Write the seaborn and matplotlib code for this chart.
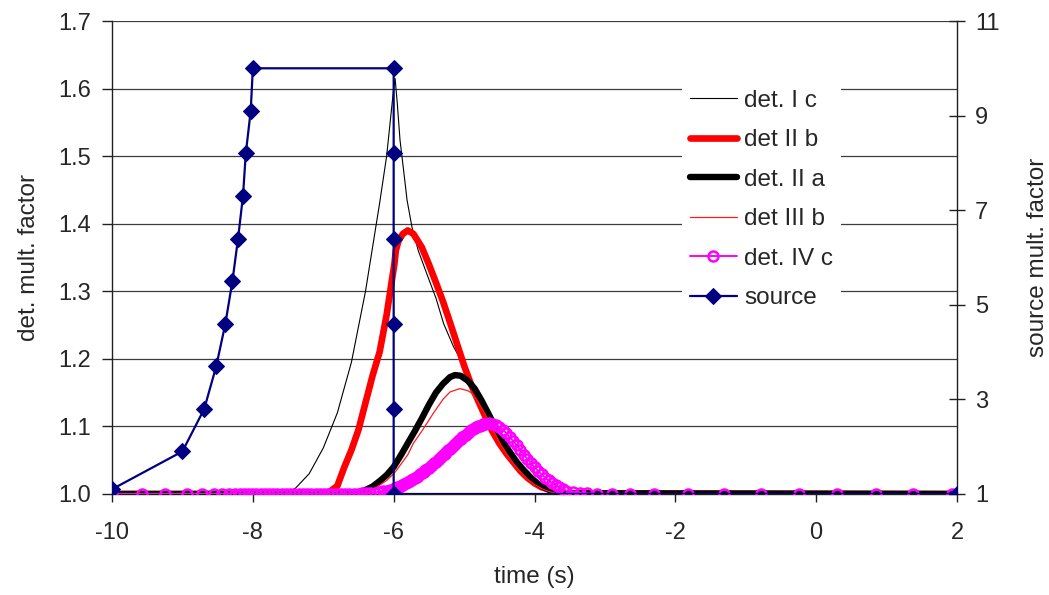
import numpy as np
import pandas as pd
import matplotlib
matplotlib.use("Agg")
import matplotlib.pyplot as plt
import seaborn as sns

# ---- detector responses (multiplication factor vs time) ----
det1c_t = [-10.0, -7.6, -7.4, -7.2, -7.0, -6.8, -6.6, -6.4, -6.2, -6.1, -6.0, -5.98,
           -5.95, -5.91, -5.86, -5.81, -5.74, -5.65, -5.53, -5.4, -5.29, -5.15, -5.0,
           -4.8, -4.6, -4.4, -4.2, -4.0, -3.8, -3.6, 2.0]
det1c_v = [1.0, 1.0, 1.008, 1.03, 1.068, 1.12, 1.195, 1.30, 1.43, 1.50, 1.60, 1.615,
           1.58, 1.524, 1.48, 1.435, 1.395, 1.36, 1.326, 1.29, 1.252, 1.218, 1.19,
           1.14, 1.095, 1.06, 1.033, 1.016, 1.006, 1.001, 1.0]

det2b_t = [-10.0, -7.0, -6.9, -6.8, -6.7, -6.6, -6.5, -6.4, -6.3, -6.2, -6.1, -6.02,
           -5.99, -5.97, -5.93, -5.87, -5.8, -5.72, -5.6, -5.5, -5.4, -5.3, -5.2, -5.1,
           -5.0, -4.9, -4.8, -4.7, -4.6, -4.5, -4.4, -4.3, -4.2, -4.1, -4.0, -3.9,
           -3.8, -3.7, -3.6, 2.0]
det2b_v = [1.0, 1.0, 1.004, 1.012, 1.04, 1.065, 1.095, 1.135, 1.175, 1.21, 1.265, 1.32,
           1.34, 1.36, 1.375, 1.385, 1.39, 1.385, 1.365, 1.34, 1.313, 1.285, 1.254, 1.222,
           1.19, 1.162, 1.138, 1.115, 1.093, 1.075, 1.06, 1.047, 1.034, 1.024, 1.016, 1.01,
           1.007, 1.003, 1.001, 1.0]

det2a_t = [-10.0, -6.6, -6.5, -6.4, -6.3, -6.2, -6.1, -6.0, -5.9, -5.8, -5.7, -5.6,
           -5.5, -5.4, -5.3, -5.2, -5.13, -5.05, -4.95, -4.85, -4.75, -4.65, -4.55,
           -4.45, -4.35, -4.25, -4.15, -4.05, -3.95, -3.85, -3.75, -3.65, 2.0]
det2a_v = [1.0, 1.0, 1.002, 1.006, 1.011, 1.019, 1.028, 1.04, 1.057, 1.075, 1.093, 1.112,
           1.132, 1.15, 1.163, 1.173, 1.176, 1.175, 1.168, 1.156, 1.138, 1.118, 1.097,
           1.078, 1.062, 1.047, 1.035, 1.024, 1.015, 1.009, 1.004, 1.001, 1.0]

det3b_t = [-10.0, -6.5, -6.3, -6.1, -6.0, -5.96, -5.8, -5.72, -5.6, -5.44, -5.3, -5.2,
           -5.06, -4.95, -4.9, -4.8, -4.7, -4.6, -4.5, -4.4, -4.3, -4.2, -4.1, -4.0,
           -3.9, -3.8, -3.7, 2.0]
det3b_v = [1.0, 1.0, 1.006, 1.02, 1.03, 1.035, 1.058, 1.075, 1.093, 1.119, 1.14, 1.151,
           1.156, 1.153, 1.15, 1.136, 1.118, 1.097, 1.077, 1.06, 1.045, 1.033, 1.022, 1.014,
           1.008, 1.004, 1.001, 1.0]

det4c_t = [-10.0, -9.58, -9.25, -8.94, -8.72, -8.55, -8.44, -8.34, -8.26, -8.18, -8.12,
           -8.07, -8.01, -7.95, -7.89,
           -7.83, -7.77, -7.71, -7.65, -7.59, -7.53, -7.47, -7.41, -7.35, -7.29, -7.23,
           -7.17, -7.11, -7.05, -6.99, -6.93, -6.87, -6.81, -6.75, -6.69, -6.63, -6.57,
           -6.51, -6.45, -6.39, -6.33, -6.27, -6.21, -6.15, -6.10, -6.05,
           -6.000, -5.975, -5.950, -5.925, -5.900, -5.875, -5.850, -5.825, -5.800,
           -5.775, -5.750, -5.725, -5.700, -5.675, -5.650, -5.625, -5.600, -5.575,
           -5.550, -5.525, -5.500, -5.475, -5.450, -5.425, -5.400, -5.375, -5.350,
           -5.325, -5.300, -5.275, -5.250, -5.225, -5.200, -5.175, -5.150, -5.125,
           -5.100, -5.075, -5.050, -5.025, -5.000, -4.975, -4.950, -4.925, -4.900,
           -4.875, -4.850, -4.825, -4.800, -4.775, -4.750, -4.725, -4.700,
           -4.65, -4.60, -4.55, -4.50, -4.45, -4.40,
           -4.35, -4.30, -4.25, -4.20, -4.15, -4.10, -4.05, -4.00, -3.95, -3.90, -3.85,
           -3.80, -3.75, -3.70, -3.65, -3.60, -3.55,
           -3.45, -3.35, -3.25, -3.11, -2.90, -2.65, -2.31, -1.82, -1.31, -0.78, -0.24,
           0.30, 0.85, 1.38, 1.93]
det4c_v = [1.0, 1.0, 1.0, 1.0, 1.0, 1.0, 1.0, 1.0, 1.0, 1.0, 1.0,
           1.0, 1.0, 1.0, 1.0,
           1.0, 1.0, 1.0, 1.0, 1.0, 1.0, 1.0, 1.0, 1.0, 1.0, 1.0,
           1.0, 1.0, 1.0, 1.0, 1.0, 1.0, 1.0, 1.0, 1.0, 1.0, 1.0,
           1.0, 1.001, 1.001, 1.002, 1.002, 1.003, 1.004, 1.005, 1.006,
           1.008, 1.009, 1.010, 1.011, 1.012, 1.0135, 1.015, 1.0165, 1.018,
           1.0195, 1.021, 1.0225, 1.024, 1.0255, 1.027, 1.029, 1.031, 1.033,
           1.035, 1.037, 1.039, 1.041, 1.043, 1.0455, 1.048, 1.050, 1.052,
           1.0545, 1.057, 1.0595, 1.062, 1.0645, 1.067, 1.0695, 1.072, 1.0745,
           1.077, 1.0795, 1.082, 1.084, 1.086, 1.088, 1.090, 1.092, 1.094,
           1.0955, 1.097, 1.0985, 1.100, 1.101, 1.102, 1.103, 1.104,
           1.105, 1.104, 1.102, 1.099, 1.095, 1.090,
           1.084, 1.078, 1.072, 1.065, 1.058, 1.052, 1.046, 1.040, 1.034, 1.029, 1.024,
           1.020, 1.016, 1.013, 1.010, 1.007, 1.005,
           1.003, 1.002, 1.001, 1.0, 1.0, 1.0, 1.0, 1.0, 1.0, 1.0, 1.0,
           1.0, 1.0, 1.0, 1.0]

# ---- source strength (right axis) ----
source_t = [-10.0, -9.0, -8.69, -8.52, -8.39, -8.29, -8.21, -8.14, -8.10, -8.03, -8.0,
            -6.0, -6.0, -6.0, -6.0, -6.0, -6.0, 2.0]
source_v = [1.1, 1.9, 2.8, 3.7, 4.6, 5.5, 6.4, 7.3, 8.2, 9.1, 10.0,
            10.0, 8.2, 6.4, 4.6, 2.8, 1.0, 1.0]

x_ticks = [-10, -8, -6, -4, -2, 0, 2]
left_ticks = [1.0, 1.1, 1.2, 1.3, 1.4, 1.5, 1.6, 1.7]
right_ticks = [1, 3, 5, 7, 9, 11]

sns.set_style("white")
plt.rcParams["font.family"] = ["Liberation Sans", "DejaVu Sans"]
FS = 17
LFS = 17.5

fig = plt.figure(figsize=(10.49, 5.95), dpi=100)
ax = fig.add_axes([112 / 1049, 1 - 494 / 595, (957 - 112) / 1049, (494 - 21) / 595])
ax2 = ax.twinx()

ax.set_zorder(1)
ax2.set_zorder(2)
ax.patch.set_visible(False)

# horizontal grid lines at the left-axis ticks
for yv in left_ticks[1:]:
    ax.axhline(yv, color="#3c3c3c", lw=0.9, zorder=0.5)

sns.lineplot(x=det1c_t, y=det1c_v, ax=ax, estimator=None, sort=False,
             color="black", lw=0.8, label="det. I c", zorder=2)
sns.lineplot(x=det2b_t, y=det2b_v, ax=ax, estimator=None, sort=False,
             color="#ff0000", lw=4.8, label="det II b", zorder=3)
sns.lineplot(x=det2a_t, y=det2a_v, ax=ax, estimator=None, sort=False,
             color="black", lw=4.6, label="det. II a", zorder=4)
sns.lineplot(x=det3b_t, y=det3b_v, ax=ax, estimator=None, sort=False,
             color="#ff1a1a", lw=0.9, label="det III b", zorder=5)
sns.lineplot(x=det4c_t, y=det4c_v, ax=ax, estimator=None, sort=False,
             color="#ff00ff", lw=1.4, marker="o", markersize=7.2,
             markerfacecolor="none", markeredgecolor="#ff00ff", markeredgewidth=1.8,
             label="det. IV c", zorder=6)
sns.lineplot(x=source_t, y=source_v, ax=ax2, estimator=None, sort=False,
             color="#000080", lw=1.6, marker="D", markersize=8,
             markerfacecolor="#000080", markeredgecolor="#000080",
             label="source", zorder=7)

ax.set_xlim(-10, 2)
ax.set_ylim(1.0, 1.7)
ax2.set_ylim(1, 11)
ax.set_xticks(x_ticks)
ax.set_xticklabels([str(v) for v in x_ticks])
ax.set_yticks(left_ticks)
ax.set_yticklabels([f"{v:.1f}" for v in left_ticks])
ax2.set_yticks(right_ticks)
ax2.set_yticklabels([str(v) for v in right_ticks])

for a in (ax, ax2):
    for s in a.spines.values():
        s.set_visible(False)
ax.spines["left"].set_visible(True)
ax.spines["bottom"].set_visible(True)
ax2.spines["right"].set_visible(True)
for s in (ax.spines["left"], ax.spines["bottom"], ax2.spines["right"]):
    s.set_color("#202020")
    s.set_linewidth(1.0)

ax.tick_params(axis="x", direction="out", length=6, width=1, color="#202020",
               labelsize=FS, pad=14, bottom=True)
ax.tick_params(axis="y", direction="out", length=7, width=1, color="#202020",
               labelsize=FS, pad=8, left=True)
ax2.tick_params(axis="y", direction="inout", length=12, width=1, color="#202020",
                labelsize=FS, pad=7, right=True)

ax.set_xlabel("time (s)", fontsize=LFS, labelpad=16)
ax.set_ylabel("det. mult. factor", fontsize=LFS, labelpad=13)
ax2.set_ylabel("source mult. factor", fontsize=LFS, labelpad=20, rotation=90)

# combined legend for both axes
h1, l1 = ax.get_legend_handles_labels()
h2, l2 = ax2.get_legend_handles_labels()
ax.get_legend().remove()
ax2.get_legend().remove()
leg = ax2.legend(h1 + h2, l1 + l2, loc="upper left", bbox_to_anchor=(0.675, 0.87),
                 fontsize=LFS, frameon=True, facecolor="white", edgecolor="none",
                 framealpha=1.0, fancybox=False, handlelength=1.95, handletextpad=0.3,
                 labelspacing=0.72, borderpad=0.3, borderaxespad=0)

fig.savefig("out.png", dpi=100, facecolor="white")
